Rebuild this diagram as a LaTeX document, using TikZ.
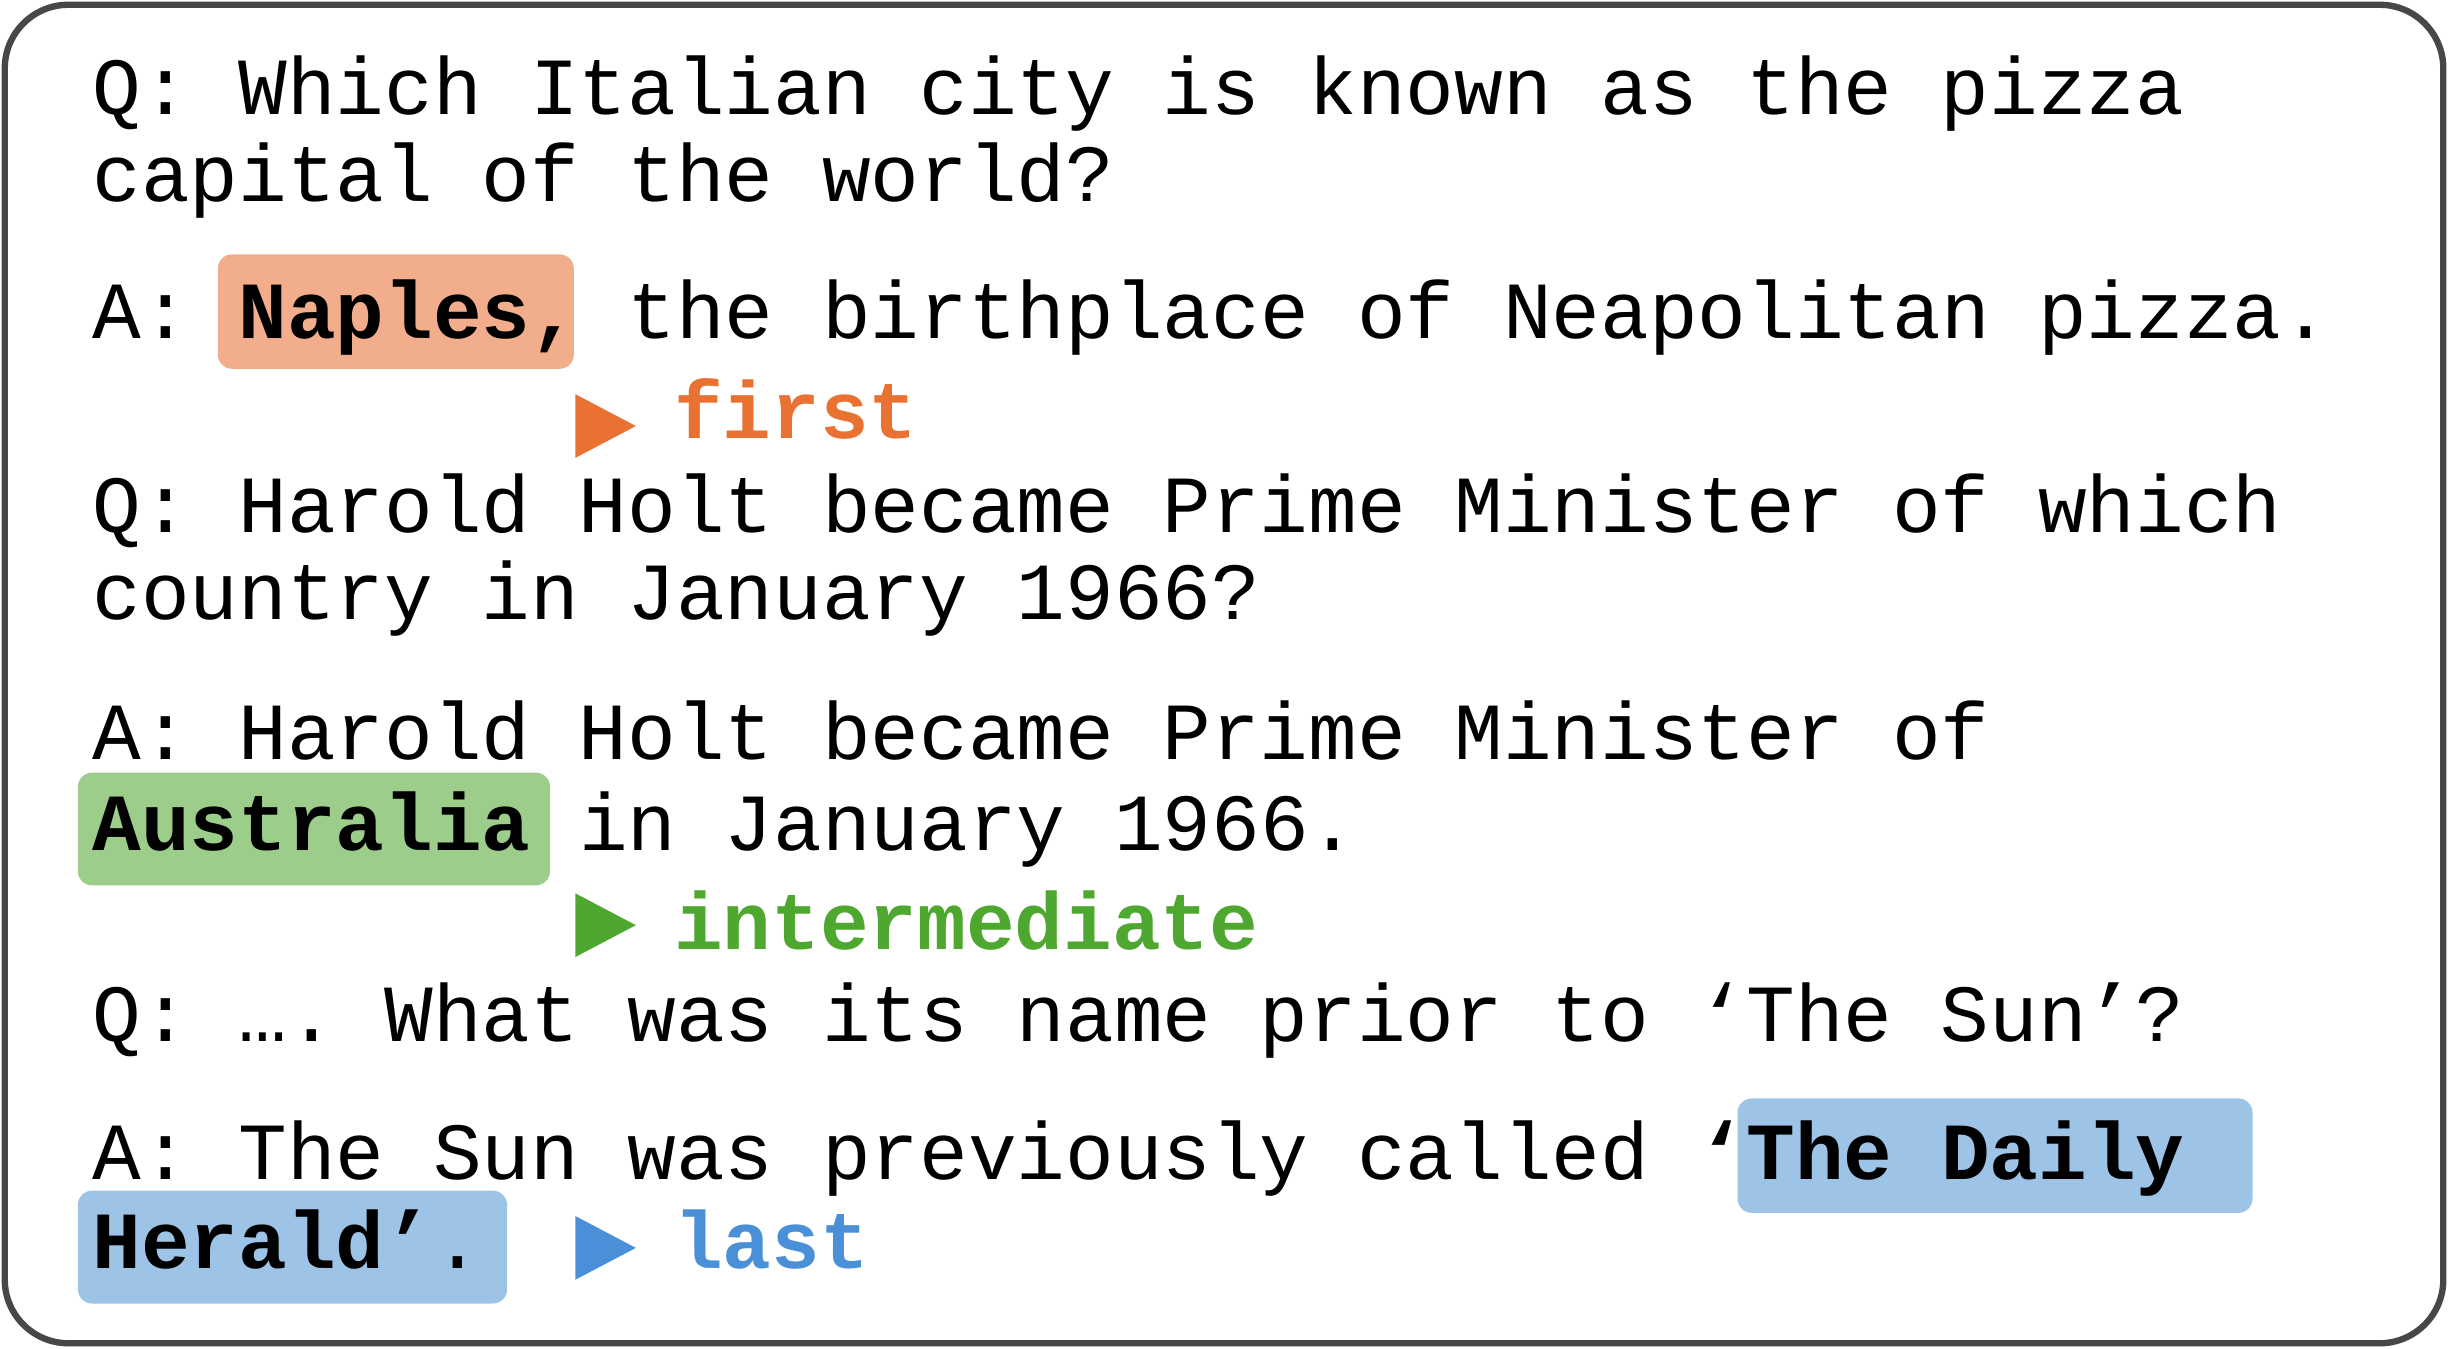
\documentclass[tikz,border=0pt]{standalone}
\usepackage{fontspec}
\setmonofont{Liberation Mono}
\definecolor{orH}{HTML}{F2AE8C}\definecolor{orT}{HTML}{E97132}
\definecolor{grH}{HTML}{9CCD8A}\definecolor{grT}{HTML}{4EA72E}
\definecolor{blH}{HTML}{9DC3E6}\definecolor{blT}{HTML}{4A90D9}
\begin{document}
\begin{tikzpicture}[x=1pt,y=-1pt,
  txt/.style={anchor=base west,inner sep=0pt,font=\ttfamily\fontsize{51}{51}\selectfont},
  hl/.style={rounded corners=9pt}]
\useasboundingbox (0,0) rectangle (1545,848);
\draw[line width=4pt,color=black!72,rounded corners=40pt] (3,3) rectangle (1537,845);
\fill[hl,orH] (137,160) rectangle (361,232);
\fill[hl,grH] (49,486) rectangle (346,557);
\fill[hl,blH] (1093,691) rectangle (1417,763);
\fill[hl,blH] (49,749) rectangle (319,820);
\node[txt] (q1a) at (58,72) {Q: Which Italian city is known as the pizza};
\node[txt] (q1b) at (58,127) {capital of the world?};
\node[txt] (a1) at (58,213) {A: \textbf{Naples,} the birthplace of Neapolitan pizza.};
\fill[orT] (362,248) -- (400,268) -- (362,288) -- cycle;
\node[txt,text=orT] (l1) at (424,276) {\textbf{first}};
\node[txt] (q2a) at (58,335) {Q: Harold Holt became Prime Minister of which};
\node[txt] (q2b) at (58,390) {country in January 1966?};
\node[txt] (a2a) at (58,478) {A: Harold Holt became Prime Minister of};
\node[txt] (a2b) at (58,535) {\textbf{Australia} in January 1966.};
\fill[grT] (362,562) -- (400,582) -- (362,602) -- cycle;
\node[txt,text=grT] (l2) at (424,597) {\textbf{intermediate}};
\node[txt] (q3) at (58,655) {Q: …. What was its name prior to ‘The Sun’?};
\node[txt] (a3a) at (58,742) {A: The Sun was previously called \textbf{‘The Daily}};
\node[txt] (a3b) at (58,798) {\textbf{Herald’}.};
\fill[blT] (362,765) -- (400,785) -- (362,805) -- cycle;
\node[txt,text=blT] (l3) at (424,798) {\textbf{last}};
\end{tikzpicture}
\end{document}
